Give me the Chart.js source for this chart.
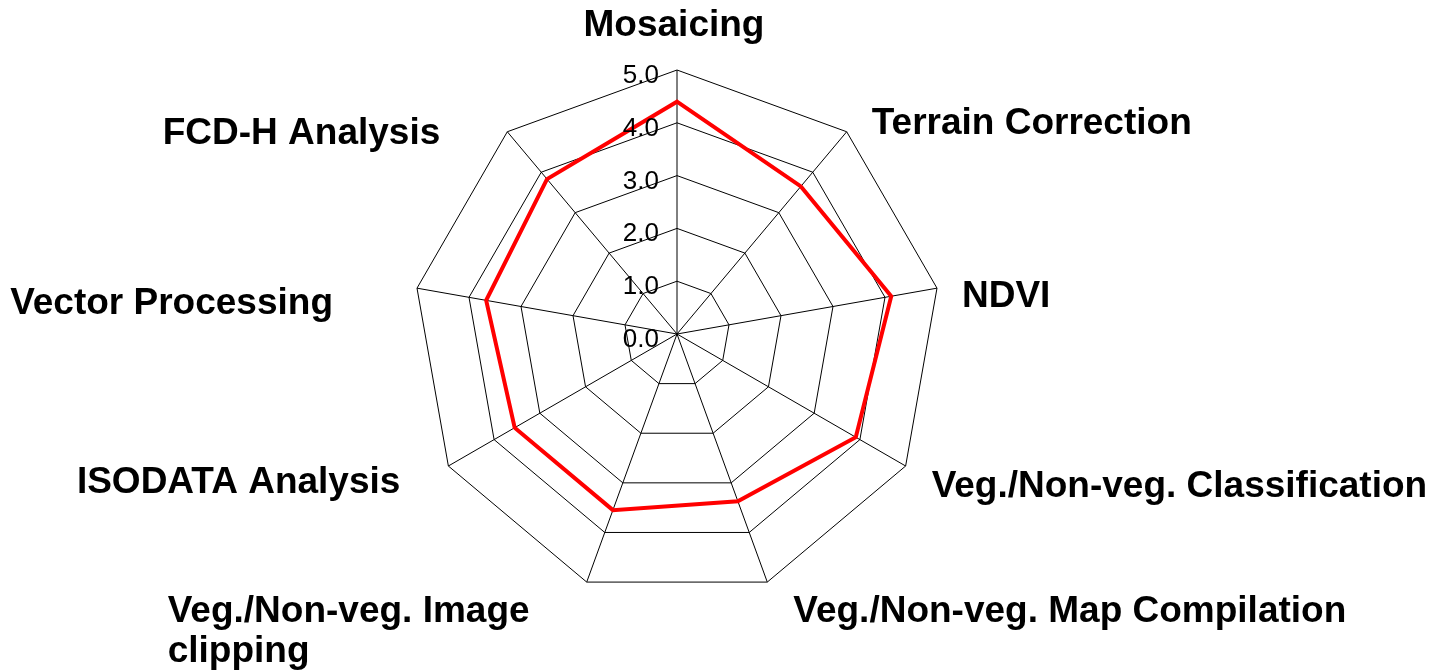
<!DOCTYPE html>
<html lang="en">
<head>
<meta charset="utf-8">
<title>Processing steps radar</title>
<script src="https://cdn.jsdelivr.net/npm/chart.js"></script>
<style>
  html, body { margin: 0; padding: 0; background: #fff; }
  #wrap { width: 1439px; height: 671px; }
</style>
</head>
<body>
<div id="wrap"><canvas id="radar"></canvas></div>
<script>
// categories, clockwise from the top
const categories = [
  'Mosaicing',
  'Terrain Correction',
  'NDVI',
  'Veg./Non-veg. Classification',
  'Veg./Non-veg. Map Compilation',
  ['Veg./Non-veg. Image', 'clipping'],
  'ISODATA Analysis',
  'Vector Processing',
  'FCD-H Analysis'
];
const scores = [4.4, 3.65, 4.12, 3.91, 3.37, 3.55, 3.55, 3.67, 3.83];
const tickValues = [0, 1, 2, 3, 4, 5];
const tickLabels = ['0.0', '1.0', '2.0', '3.0', '4.0', '5.0'];

// where each category label sits relative to its spoke tip
const labelPlace = [
  { dx: -3, dy: -34, align: 'center' },
  { dx: 25, dy: 2, align: 'left' },
  { dx: 25, dy: 19, align: 'left' },
  { dx: 26, dy: 31, align: 'left' },
  { dx: 26, dy: 40, align: 'left' },
  { dx: -419, dy: 40, align: 'left' },
  { dx: -48, dy: 27, align: 'right' },
  { dx: -84, dy: 26, align: 'right' },
  { dx: -67, dy: 12, align: 'right' }
];

const FONT = '"Liberation Sans", Arial, sans-serif';

// draws the tick numbers and the category names
const labelPlugin = {
  id: 'radarText',
  afterDraw(chart) {
    const scale = chart.scales.r;
    const ctx = chart.ctx;
    ctx.save();
    ctx.fillStyle = '#000';

    // tick numbers, left of the top spoke
    ctx.font = '26px ' + FONT;
    ctx.textAlign = 'right';
    ctx.textBaseline = 'alphabetic';
    tickValues.forEach((v, i) => {
      const d = scale.getDistanceFromCenterForValue(v);
      ctx.fillText(tickLabels[i], scale.xCenter - 18, scale.yCenter - d + 13);
    });

    // category names
    ctx.font = 'bold 37px ' + FONT;
    categories.forEach((lab, i) => {
      const p = scale.getPointPosition(i, scale.drawingArea);
      const place = labelPlace[i];
      const x = p.x + place.dx;
      const y = p.y + place.dy;
      const lines = Array.isArray(lab) ? lab : [lab];
      if (lines.length > 1) {
        // block of lines, left aligned inside
        const w = Math.max(...lines.map(l => ctx.measureText(l).width));
        const left = place.align === 'right' ? x - w : (place.align === 'center' ? x - w / 2 : x);
        ctx.textAlign = 'left';
        lines.forEach((l, k) => ctx.fillText(l, left, y + k * 40));
      } else {
        ctx.textAlign = place.align;
        ctx.fillText(lines[0], x, y);
      }
    });
    ctx.restore();
  }
};

const ctx = document.getElementById('radar').getContext('2d');
const chart = new Chart(ctx, {
  type: 'radar',
  data: {
    labels: categories,
    datasets: [{
      label: 'Score',
      data: scores,
      borderColor: '#ff0000',
      backgroundColor: 'rgba(0,0,0,0)',
      borderWidth: 4,
      fill: false,
      pointRadius: 0,
      pointHoverRadius: 0,
      tension: 0
    }]
  },
  options: {
    responsive: true,
    maintainAspectRatio: false,
    animation: false,
    layout: {
      padding: { left: 413, right: 498, top: 70, bottom: 73 }
    },
    plugins: {
      legend: { display: false },
      tooltip: { enabled: false }
    },
    scales: {
      r: {
        min: 0,
        max: 5,
        startAngle: 0,
        ticks: { display: false, stepSize: 1 },
        pointLabels: { display: false },
        grid: { color: '#000', lineWidth: 1 },
        angleLines: { color: '#000', lineWidth: 1 }
      }
    }
  },
  plugins: [labelPlugin]
});
</script>
</body>
</html>
